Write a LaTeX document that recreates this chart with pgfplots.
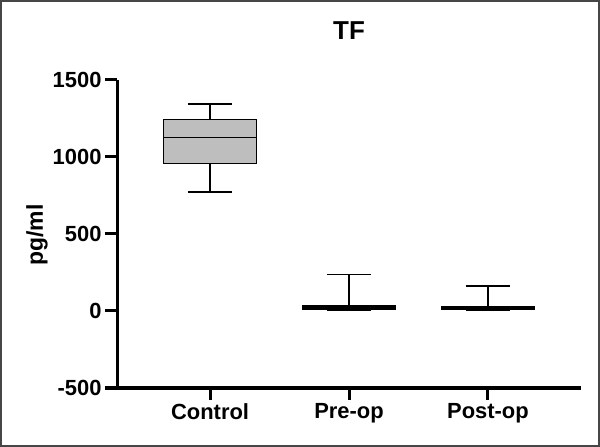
\documentclass[border=0pt]{standalone}
\usepackage{pgfplots}
\pgfplotsset{compat=1.18}
\usepackage{fontspec}
\setmainfont{Liberation Sans}
\definecolor{boxgray}{RGB}{190,190,190}
\definecolor{framegray}{RGB}{70,70,70}
\begin{document}
\begin{tikzpicture}
\useasboundingbox (0bp,0bp) rectangle (600bp,447bp);
\draw[framegray, line width=2bp] (1bp,1bp) rectangle (599bp,446bp);
\node[font=\fontsize{26}{30}\selectfont\bfseries] at (349bp,416bp) {TF};
\node[font=\fontsize{23}{27}\selectfont\bfseries, rotate=90] at (37bp,212bp) {pg/ml};
\begin{axis}[
  at={(117bp,59bp)}, anchor=south west,
  scale only axis, width=464bp, height=308bp,
  xmin=0.33, xmax=3.67, ymin=-500, ymax=1500,
  axis lines=left,
  axis line style={-, line width=3bp, black},
  xtick={1,2,3}, xticklabels={Control,Pre-op,Post-op},
  ytick={-500,0,500,1000,1500},
  tick align=outside,
  major tick length=12bp,
  tick style={line width=3bp, black},
  /pgf/number format/assume math mode=true,
  /pgf/number format/1000 sep={},
  tick label style={font=\fontsize{22}{26}\selectfont\bfseries},
  bx/.style={black, line width=1.5bp, mark=none, solid},
]
% Control: LW 773, Q1 959, Med 1125, Q3 1245, UW 1345
\addplot[bx, fill=boxgray] coordinates {(0.665,959) (1.335,959) (1.335,1245) (0.665,1245)} -- cycle;
\addplot[bx] coordinates {(0.665,1125) (1.335,1125)};
\addplot[bx] coordinates {(1,1245) (1,1345)};
\addplot[bx] coordinates {(0.84,1345) (1.16,1345)};
\addplot[bx] coordinates {(1,959) (1,773)};
\addplot[bx] coordinates {(0.84,773) (1.16,773)};
% Pre-op: LW 4, Q1 14, Med 22, Q3 32, UW 238
\addplot[bx, fill=boxgray] coordinates {(1.665,14) (2.335,14) (2.335,32) (1.665,32)} -- cycle;
\addplot[bx] coordinates {(1.665,22) (2.335,22)};
\addplot[bx] coordinates {(2,32) (2,238)};
\addplot[bx] coordinates {(1.84,238) (2.16,238)};
\addplot[bx] coordinates {(2,14) (2,4)};
\addplot[bx] coordinates {(1.84,4) (2.16,4)};
% Post-op: LW 2, Q1 9, Med 17, Q3 25, UW 162
\addplot[bx, fill=boxgray] coordinates {(2.665,9) (3.335,9) (3.335,25) (2.665,25)} -- cycle;
\addplot[bx] coordinates {(2.665,17) (3.335,17)};
\addplot[bx] coordinates {(3,25) (3,162)};
\addplot[bx] coordinates {(2.84,162) (3.16,162)};
\addplot[bx] coordinates {(3,9) (3,2)};
\addplot[bx] coordinates {(2.84,2) (3.16,2)};
\end{axis}
\end{tikzpicture}
\end{document}
